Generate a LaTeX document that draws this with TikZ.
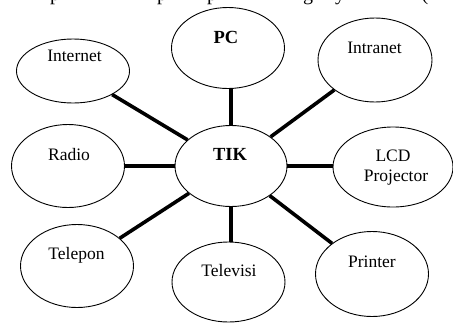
\documentclass[tikz,border=0pt]{standalone}
\usepackage{fontspec}
\setmainfont{Liberation Serif}
\usetikzlibrary{shapes.geometric}
\tikzset{
  ell/.style={draw, ellipse, line width=0.9pt, inner sep=0pt},
  txt/.style={anchor=base, inner sep=0pt, font=\fontsize{17.5}{20}\selectfont},
  btxt/.style={anchor=base, inner sep=0pt, font=\fontsize{18.5}{20}\selectfont\bfseries},
  link/.style={line width=3.6pt},
  frag/.style={anchor=base, inner sep=0pt, font=\fontsize{20}{22}\selectfont}
}
\begin{document}
\begin{tikzpicture}[x=1pt,y=-1pt]
\useasboundingbox (0,0) rectangle (453,322);
% clipped fragment of the text line above the picture
\begin{scope}
\clip (0,0) rectangle (453,12);
\node[frag] (f1) at (55,0.5) {p};
\node[frag] (f2) at (162,0.5) {p};
\node[frag] (f3) at (212,0.5) {p};
\node[frag] (f4) at (308,0.5) {g};
\node[frag] (f5) at (340,0.5) {y};
\node[frag] (f6) at (425,0.5) {(};
\end{scope}
% ellipses
\node[ell, minimum width=113pt, minimum height=64pt] (internet) at (73,71) {};
\node[ell, minimum width=113pt, minimum height=81pt] (pc) at (228,48) {};
\node[ell, minimum width=114pt, minimum height=84pt] (intranet) at (375,60) {};
\node[ell, minimum width=113pt, minimum height=83pt] (radio) at (68,166) {};
\node[ell, minimum width=112pt, minimum height=81pt] (tik) at (231,166) {};
\node[ell, minimum width=120pt, minimum height=80pt] (lcd) at (393,167) {};
\node[ell, minimum width=113pt, minimum height=83pt] (telepon) at (77,266) {};
\node[ell, minimum width=113pt, minimum height=80pt] (televisi) at (228.5,282) {};
\node[ell, minimum width=113pt, minimum height=85pt] (printer) at (372,274) {};
% labels
\node[txt] (tinternet) at (74.5,61.5) {Internet};
\node[btxt] (tpc) at (226,43) {PC};
\node[txt] (tintranet) at (374.5,53) {Intranet};
\node[txt] (tradio) at (69,160) {Radio};
\node[btxt] (ttik) at (230,160) {TIK};
\node[txt] (tlcd) at (393,161.5) {LCD};
\node[txt] (tproj) at (396,181.5) {Projector};
\node[txt] (ttelepon) at (76.5,259) {Telepon};
\node[txt] (ttelevisi) at (229,276.5) {Televisi};
\node[txt] (tprinter) at (372,267) {Printer};
% connectors
\draw[link] (internet) -- (tik);
\draw[link] (pc.south -| tik.center) -- (tik.north);
\draw[link] (intranet) -- (tik);
\draw[link] (radio.east |- tik.center) -- (tik.west);
\draw[link] (lcd.west |- tik.center) -- (tik.east);
\draw[link] (telepon) -- (tik);
\draw[link] (televisi.north -| tik.center) -- (tik.south);
\draw[link] (printer) -- (tik);
\end{tikzpicture}
\end{document}
